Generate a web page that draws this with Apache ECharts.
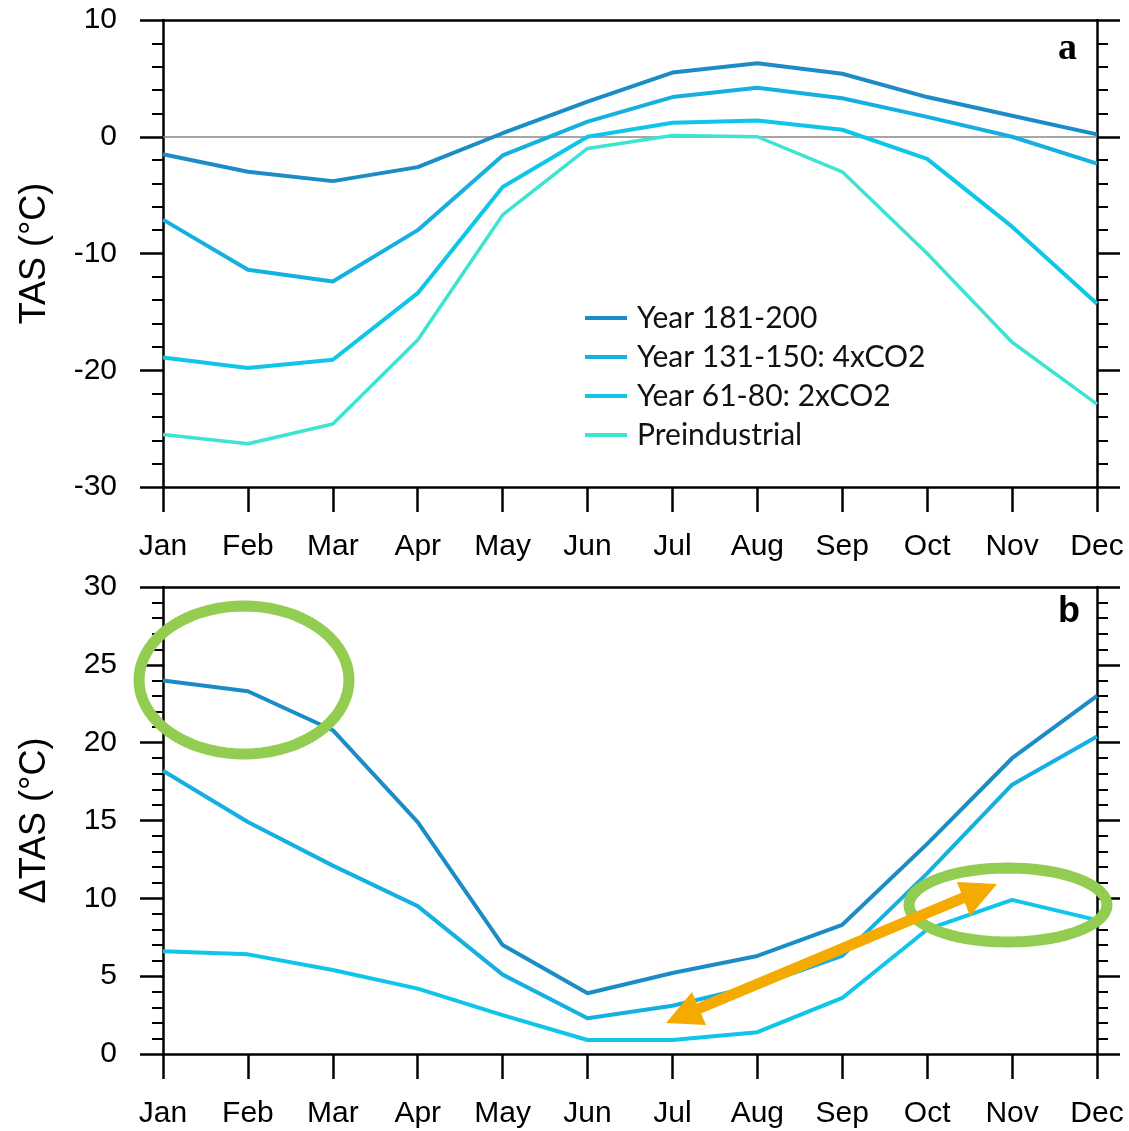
<!DOCTYPE html>
<html><head><meta charset="utf-8">
<script src="https://cdn.jsdelivr.net/npm/echarts@6/dist/echarts.min.js"></script>
<style>html,body{margin:0;padding:0;background:#fff}#c{width:1129px;height:1131px}</style>
</head><body><div id="c"></div>
<script>
// ---- data ----
const months = ['Jan','Feb','Mar','Apr','May','Jun','Jul','Aug','Sep','Oct','Nov','Dec'];
const seriesNames = ['Year 181-200','Year 131-150: 4xCO2','Year 61-80: 2xCO2','Preindustrial'];
// panel a: TAS (°C)
const tasYr181_200 = [-1.5,-3.0,-3.8,-2.6,0.3,3.0,5.5,6.3,5.4,3.4,1.8,0.2];
const tasYr131_150 = [-7.1,-11.4,-12.4,-8.0,-1.6,1.3,3.4,4.2,3.3,1.7,0.0,-2.3];
const tasYr61_80   = [-18.9,-19.8,-19.1,-13.4,-4.3,0.0,1.2,1.4,0.6,-1.9,-7.7,-14.3];
const tasPre       = [-25.5,-26.3,-24.6,-17.4,-6.7,-1.0,0.1,0.0,-3.0,-10.0,-17.6,-22.9];
// panel b: ΔTAS (°C)
const dtasYr181_200 = [24.0,23.3,20.8,14.9,7.0,3.9,5.2,6.3,8.3,13.5,19.0,23.0];
const dtasYr131_150 = [18.2,14.9,12.1,9.5,5.1,2.3,3.1,4.4,6.3,11.6,17.3,20.4];
const dtasYr61_80   = [6.6,6.4,5.4,4.2,2.5,0.9,0.9,1.4,3.6,8.0,9.9,8.6];
// tick labels
const tasTicks  = [-30,-20,-10,0,10];
const dtasTicks = [0,5,10,15,20,25,30];

// ---- styles ----
const colors = ['#1c8cc6','#16b0e0','#10c6e8','#3fe3d2'];
const font = 'Liberation Sans, Arial, sans-serif';
const AX = '#000';

function xAxes(gridIndex){
  return [
    { type:'category', gridIndex, data:months, boundaryGap:false, position:'bottom',
      axisLine:{onZero:false, lineStyle:{color:AX,width:2.5}},
      axisTick:{show:true,inside:false,length:25,lineStyle:{color:AX,width:2.5}},
      axisLabel:{color:'#000',fontSize:30,fontFamily:font,margin:45},
      splitLine:{show:false}},
    { type:'category', gridIndex, data:months, boundaryGap:false, position:'top',
      axisLine:{onZero:false, lineStyle:{color:AX,width:2.5}},
      axisTick:{show:false}, axisLabel:{show:false}, splitLine:{show:false}}
  ];
}
function yAxes(gridIndex, ticks, name){
  const min = ticks[0], max = ticks[ticks.length-1], interval = ticks[1]-ticks[0];
  return [
    { type:'value', gridIndex, min, max, interval, position:'left',
      name, nameLocation:'middle', nameGap:110,
      nameTextStyle:{fontSize:36,fontFamily:font,color:'#000'},
      axisLine:{show:true,onZero:false,lineStyle:{color:AX,width:2.5}},
      axisTick:{show:true,inside:false,length:23,lineStyle:{color:AX,width:2.5}},
      minorTick:{show:true,splitNumber:5,length:11,lineStyle:{color:AX,width:2}},
      axisLabel:{color:'#000',fontSize:30,fontFamily:font,margin:46},
      splitLine:{show:false}, minorSplitLine:{show:false}},
    { type:'value', gridIndex, min, max, interval, position:'right',
      axisLine:{show:true,onZero:false,lineStyle:{color:AX,width:2.5}},
      axisTick:{show:true,inside:false,length:23,lineStyle:{color:AX,width:2.5}},
      minorTick:{show:true,splitNumber:5,length:11,lineStyle:{color:AX,width:2}},
      axisLabel:{show:false}, splitLine:{show:false}, minorSplitLine:{show:false}}
  ];
}
function line(name, data, color, xi, yi, width, extra){
  return Object.assign({
    type:'line', name, data, xAxisIndex:xi, yAxisIndex:yi,
    symbol:'none', showSymbol:false, smooth:false,
    lineStyle:{color, width}, itemStyle:{color}, z:3
  }, extra||{});
}
function ellipsePts(cx,cy,rx,ry){
  const p=[]; for(let i=0;i<72;i++){const t=i/72*2*Math.PI; p.push([cx+rx*Math.cos(t), cy+ry*Math.sin(t)]);} return p;
}

const chart = echarts.init(document.getElementById('c'), null, {renderer:'canvas'});
const green = '#92cc50', orange = '#f5aa00';
const option = {
  animation:false,
  backgroundColor:'#fff',
  grid:[
    {left:163, top:20, width:934, height:467},
    {left:163, top:587, width:934, height:467}
  ],
  xAxis:[...xAxes(0), ...xAxes(1)],
  yAxis:[...yAxes(0, tasTicks, 'TAS (°C)'), ...yAxes(1, dtasTicks, 'ΔTAS (°C)')],
  legend:{
    data:seriesNames, orient:'vertical', left:580, top:297,
    icon:'rect', itemWidth:42, itemHeight:4, itemGap:7,
    textStyle:{fontSize:30, lineHeight:32, fontFamily:'Lato, Open Sans, sans-serif', color:'#111', padding:[0,0,0,5]}
  },
  series:[
    line(seriesNames[0], tasYr181_200, colors[0], 0, 0, 4, {
      markLine:{silent:true, symbol:'none', label:{show:false}, z:1,
        lineStyle:{color:'#888', width:1.5, type:'solid'}, data:[{yAxis:0}]}
    }),
    line(seriesNames[1], tasYr131_150, colors[1], 0, 0, 4),
    line(seriesNames[2], tasYr61_80, colors[2], 0, 0, 4),
    line(seriesNames[3], tasPre, colors[3], 0, 0, 3.5),
    line(seriesNames[0], dtasYr181_200, colors[0], 2, 2, 4),
    line(seriesNames[1], dtasYr131_150, colors[1], 2, 2, 4),
    line(seriesNames[2], dtasYr61_80, colors[2], 2, 2, 4)
  ],
  graphic:[
    {type:'text', left:1058, top:30, style:{text:'a', font:'bold 38px "Liberation Serif", "DejaVu Serif", serif', fill:'#000'}},
    {type:'text', left:1058, top:594, style:{text:'b', font:'bold 36px "Liberation Sans", Arial, sans-serif', fill:'#000'}},
    {type:'polygon', shape:{points:ellipsePts(244,680,105,74)}, style:{fill:null, stroke:green, lineWidth:11}, z:10},
    {type:'polygon', shape:{points:ellipsePts(1008,905,99,37)}, style:{fill:null, stroke:green, lineWidth:11}, z:10},
    {type:'line', shape:{x1:693,y1:1011,x2:970,y2:895}, style:{stroke:orange, lineWidth:11}, z:11},
    {type:'polygon', shape:{points:[[666,1023],[692,992],[706,1025]]}, style:{fill:orange}, z:11},
    {type:'polygon', shape:{points:[[997,884],[957,882],[970,916]]}, style:{fill:orange}, z:11}
  ]
};
chart.setOption(option);
</script></body></html>
